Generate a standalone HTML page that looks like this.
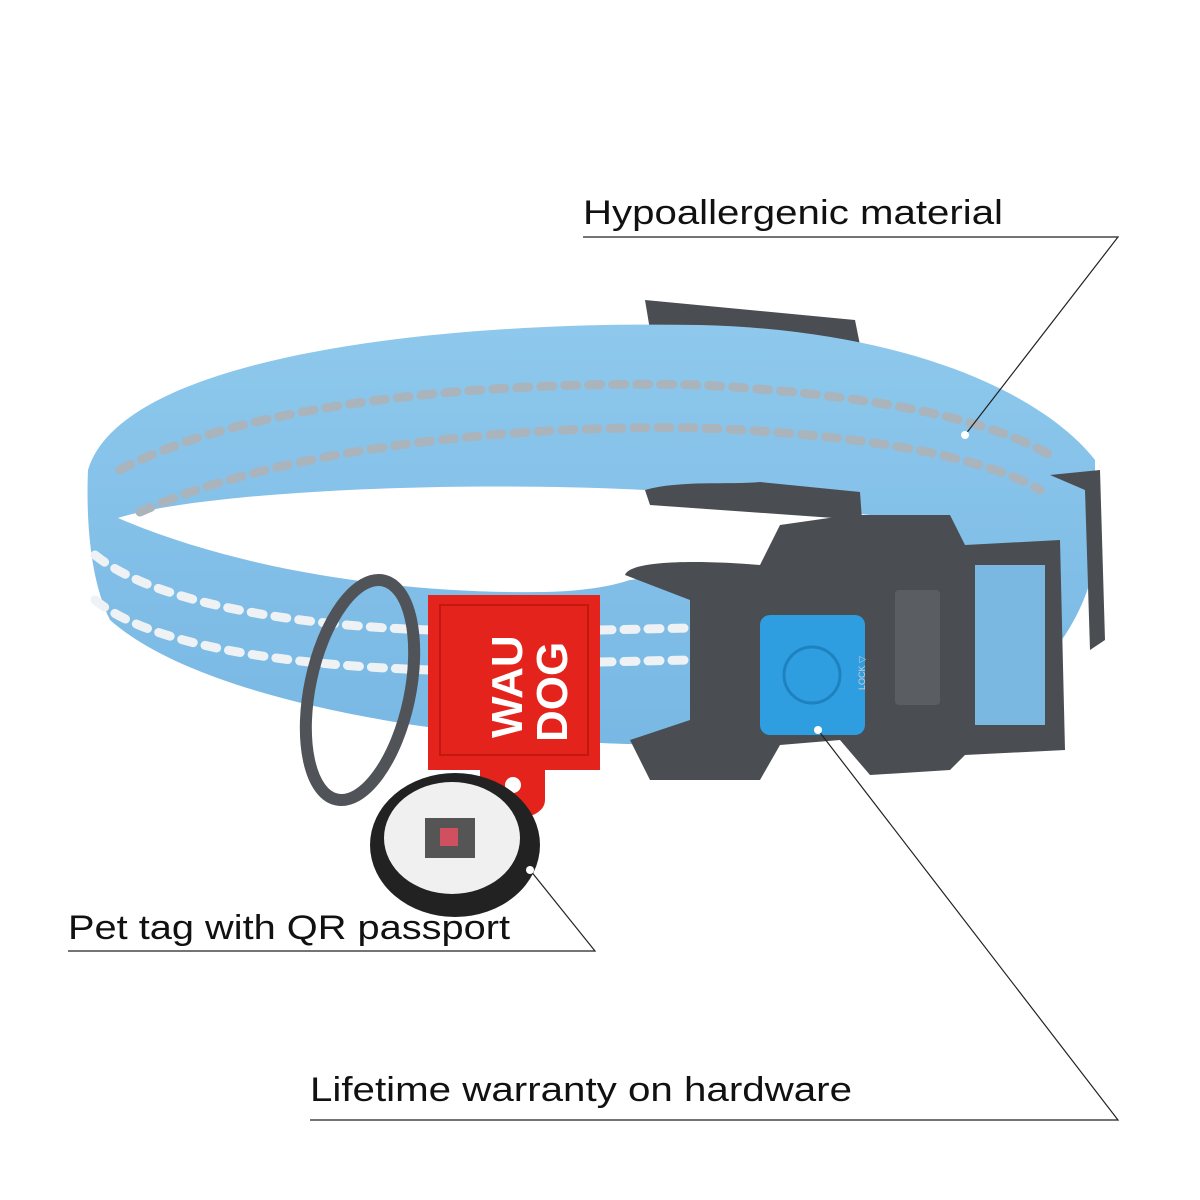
<!DOCTYPE html>
<html><head><meta charset="utf-8"><style>
html,body{margin:0;padding:0;background:#fff;}
svg{display:block}
</style></head><body>
<svg width="1200" height="1200" viewBox="0 0 1200 1200" xmlns="http://www.w3.org/2000/svg">
<defs>
<linearGradient id="bl" x1="0" y1="0" x2="0" y2="1">
<stop offset="0" stop-color="#8ec8ec"/><stop offset="1" stop-color="#78b8e4"/>
</linearGradient>
</defs>
<path d="M645,300 L855,320 L860,345 L650,330 Z" fill="#4a4d52"/>
<path d="M88,470 C120,360 420,320 700,325 C900,330 1040,390 1095,460 L1095,560 C1080,650 1000,710 960,720 L690,745 C450,745 200,700 110,620 C90,580 86,520 88,470 Z" fill="url(#bl)"/>
<path d="M118,518 C200,492 450,480 645,490 L870,515 L870,545 L760,565 L630,580 C600,590 560,592 540,592 C420,594 250,575 118,518 Z" fill="#fff"/>
<path d="M645,490 C680,480 730,485 760,482 L860,492 L862,520 L650,505 Z" fill="#4a4d52"/>
<g fill="none" stroke="#aab4bd" stroke-width="9" stroke-dasharray="12 12" stroke-linecap="round">
<path d="M120,470 C250,400 500,380 700,385 C880,395 990,420 1050,455"/>
<path d="M140,512 C300,440 550,425 700,428 C880,435 990,460 1040,490"/>
</g>
<g fill="none" stroke="#eef2f5" stroke-width="9" stroke-dasharray="12 12" stroke-linecap="round">
<path d="M95,555 C150,600 280,625 430,630"/>
<path d="M95,600 C150,645 280,665 430,670"/>
<path d="M600,630 L690,628"/>
<path d="M600,662 L690,660"/>
<path d="M970,620 L1065,620"/>
<path d="M970,665 L1065,665"/>
</g>
<ellipse cx="360" cy="690" rx="50" ry="112" transform="rotate(12 360 690)" fill="none" stroke="#505459" stroke-width="12"/>
<path d="M625,575 C630,560 700,560 760,565 L780,525 L850,515 L950,515 L965,545 L1060,540 L1065,750 L965,755 L950,770 L870,775 L840,740 L780,745 L760,780 L650,780 L630,740 L690,720 L690,600 Z" fill="#4a4d52"/>
<rect x="975" y="565" width="70" height="160" fill="#7ab8e2"/>
<rect x="895" y="590" width="45" height="115" rx="4" fill="#5a5d62"/>
<rect x="760" y="615" width="105" height="120" rx="10" fill="#2f9ee0"/>
<circle cx="812" cy="675" r="28" fill="none" stroke="#1f82c0" stroke-width="3"/>
<text x="865" y="690" font-family="Liberation Sans" font-size="9" fill="#ccc" transform="rotate(-90 865 690)">LOCK ▽</text>
<path d="M1050,475 L1100,470 L1105,640 L1090,650 L1085,490 Z" fill="#4a4d52"/>
<rect x="428" y="595" width="172" height="175" fill="#e4231c"/>
<rect x="440" y="605" width="148" height="150" fill="none" stroke="#c31810" stroke-width="2"/>
<text x="0" y="0" font-family="Liberation Sans" font-weight="bold" font-size="44" fill="#fff" transform="translate(522,738) rotate(-90)">WAU</text>
<text x="0" y="0" font-family="Liberation Sans" font-weight="bold" font-size="44" fill="#fff" transform="translate(567,742) rotate(-90)">DOG</text>
<path d="M480,770 L545,770 L545,800 C545,825 480,825 480,800 Z" fill="#e4231c"/>
<circle cx="513" cy="785" r="8" fill="#fff"/>
<ellipse cx="455" cy="845" rx="85" ry="72" fill="#222"/>
<ellipse cx="452" cy="838" rx="68" ry="56" fill="#f0f0f0"/>
<rect x="425" y="818" width="50" height="40" fill="#555"/>
<rect x="440" y="828" width="18" height="18" fill="#d05060"/>
<g stroke="#222" stroke-width="1.2" fill="none">
<path d="M583,237 L1118,237 L965,435"/>
<path d="M68,951 L595,951 L530,870"/>
<path d="M310,1120 L1118,1120 L818,730"/>
</g>
<circle cx="965" cy="435" r="4" fill="#fff"/>
<circle cx="530" cy="870" r="4" fill="#fff"/>
<circle cx="818" cy="730" r="4" fill="#fff"/>
<g font-family="Liberation Sans, sans-serif" font-size="34" fill="#111">
<text x="583" y="224" textLength="420" lengthAdjust="spacingAndGlyphs">Hypoallergenic material</text>
<text x="68" y="939" textLength="442" lengthAdjust="spacingAndGlyphs">Pet tag with QR passport</text>
<text x="310" y="1101" textLength="542" lengthAdjust="spacingAndGlyphs">Lifetime warranty on hardware</text>
</g>
</svg>
</body></html>
